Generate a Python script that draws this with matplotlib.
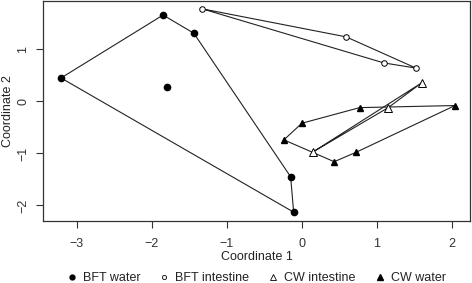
import numpy as np
import matplotlib.pyplot as plt
from matplotlib.lines import Line2D

plt.rcParams['font.family'] = ['Liberation Sans', 'DejaVu Sans']

# BFT water
bftw_x = [-3.21, -1.85, -1.44, -1.80, -0.15, -0.11]
bftw_y = [0.45, 1.66, 1.31, 0.28, -1.45, -2.13]
bftw_hull = [0, 1, 2, 4, 5, 0]

# BFT intestine
bfti_x = [-1.33, 0.59, 1.52, 1.09]
bfti_y = [1.78, 1.24, 0.64, 0.74]
bfti_hull = [0, 1, 2, 3, 0]

# CW intestine
cwi_x = [0.15, 1.60, 1.15]
cwi_y = [-0.97, 0.36, -0.12]
cwi_hull = [0, 1, 2, 0]

# CW water
cww_x = [-0.24, 0.00, 0.77, 2.04, 0.72, 0.43]
cww_y = [-0.74, -0.42, -0.12, -0.08, -0.98, -1.16]
cww_hull = [0, 1, 2, 3, 4, 5, 0]

fig = plt.figure(figsize=(4.72, 2.83), dpi=100)
ax = fig.add_axes([43/472, 1 - 221/283, (470-43)/472, (221-1)/283])

lc = '#222222'
tc = '#333333'
def hull(xs, ys, idx):
    ax.plot([xs[i] for i in idx], [ys[i] for i in idx], color=lc, lw=0.8, zorder=1)

hull(bftw_x, bftw_y, bftw_hull)
hull(bfti_x, bfti_y, bfti_hull)
hull(cwi_x, cwi_y, cwi_hull)
hull(cww_x, cww_y, cww_hull)

ax.plot(bftw_x, bftw_y, 'o', ms=4.5, color='black', ls='none', zorder=3)
ax.plot(bfti_x, bfti_y, 'o', ms=4, mfc='white', mec='black', mew=0.7, ls='none', zorder=3)
ax.plot(cwi_x, cwi_y, '^', ms=5.5, mfc='white', mec='black', mew=0.7, ls='none', zorder=3)
ax.plot(cww_x, cww_y, '^', ms=5, color='black', ls='none', zorder=3)

ax.set_xlim(-3.45, 2.24)
ax.set_ylim(-2.30, 1.93)
ax.set_xticks([-3, -2, -1, 0, 1, 2])
ax.set_yticks([-2, -1, 0, 1])
ax.tick_params(direction='out', length=5, width=0.8, labelsize=9, colors=tc, pad=7)
ax.tick_params(axis='y', pad=5)
for lab in ax.get_yticklabels():
    lab.set_rotation(90)
    lab.set_va('center')
for s in ax.spines.values():
    s.set_linewidth(0.9)
    s.set_color(tc)

ax.set_xlabel('Coordinate 1', fontsize=9, labelpad=1, color='#222222')
ax.set_ylabel('Coordinate 2', fontsize=9, labelpad=2, color='#222222')

handles = [
    Line2D([], [], marker='o', ls='none', color='black', ms=3.5),
    Line2D([], [], marker='o', ls='none', mfc='white', mec='black', mew=0.6, ms=3),
    Line2D([], [], marker='^', ls='none', mfc='white', mec='black', mew=0.6, ms=4),
    Line2D([], [], marker='^', ls='none', color='black', ms=3.8),
]
labels = ['BFT water', 'BFT intestine', 'CW intestine', 'CW water']
leg = fig.legend(handles, labels, loc='lower center', bbox_to_anchor=(0.54, -0.045), ncol=4,
                 frameon=False, fontsize=9, handletextpad=0.3, columnspacing=1.3,
                 handlelength=1.2)
for t in leg.get_texts():
    t.set_color('#222222')

fig.savefig('out.png', dpi=100)
